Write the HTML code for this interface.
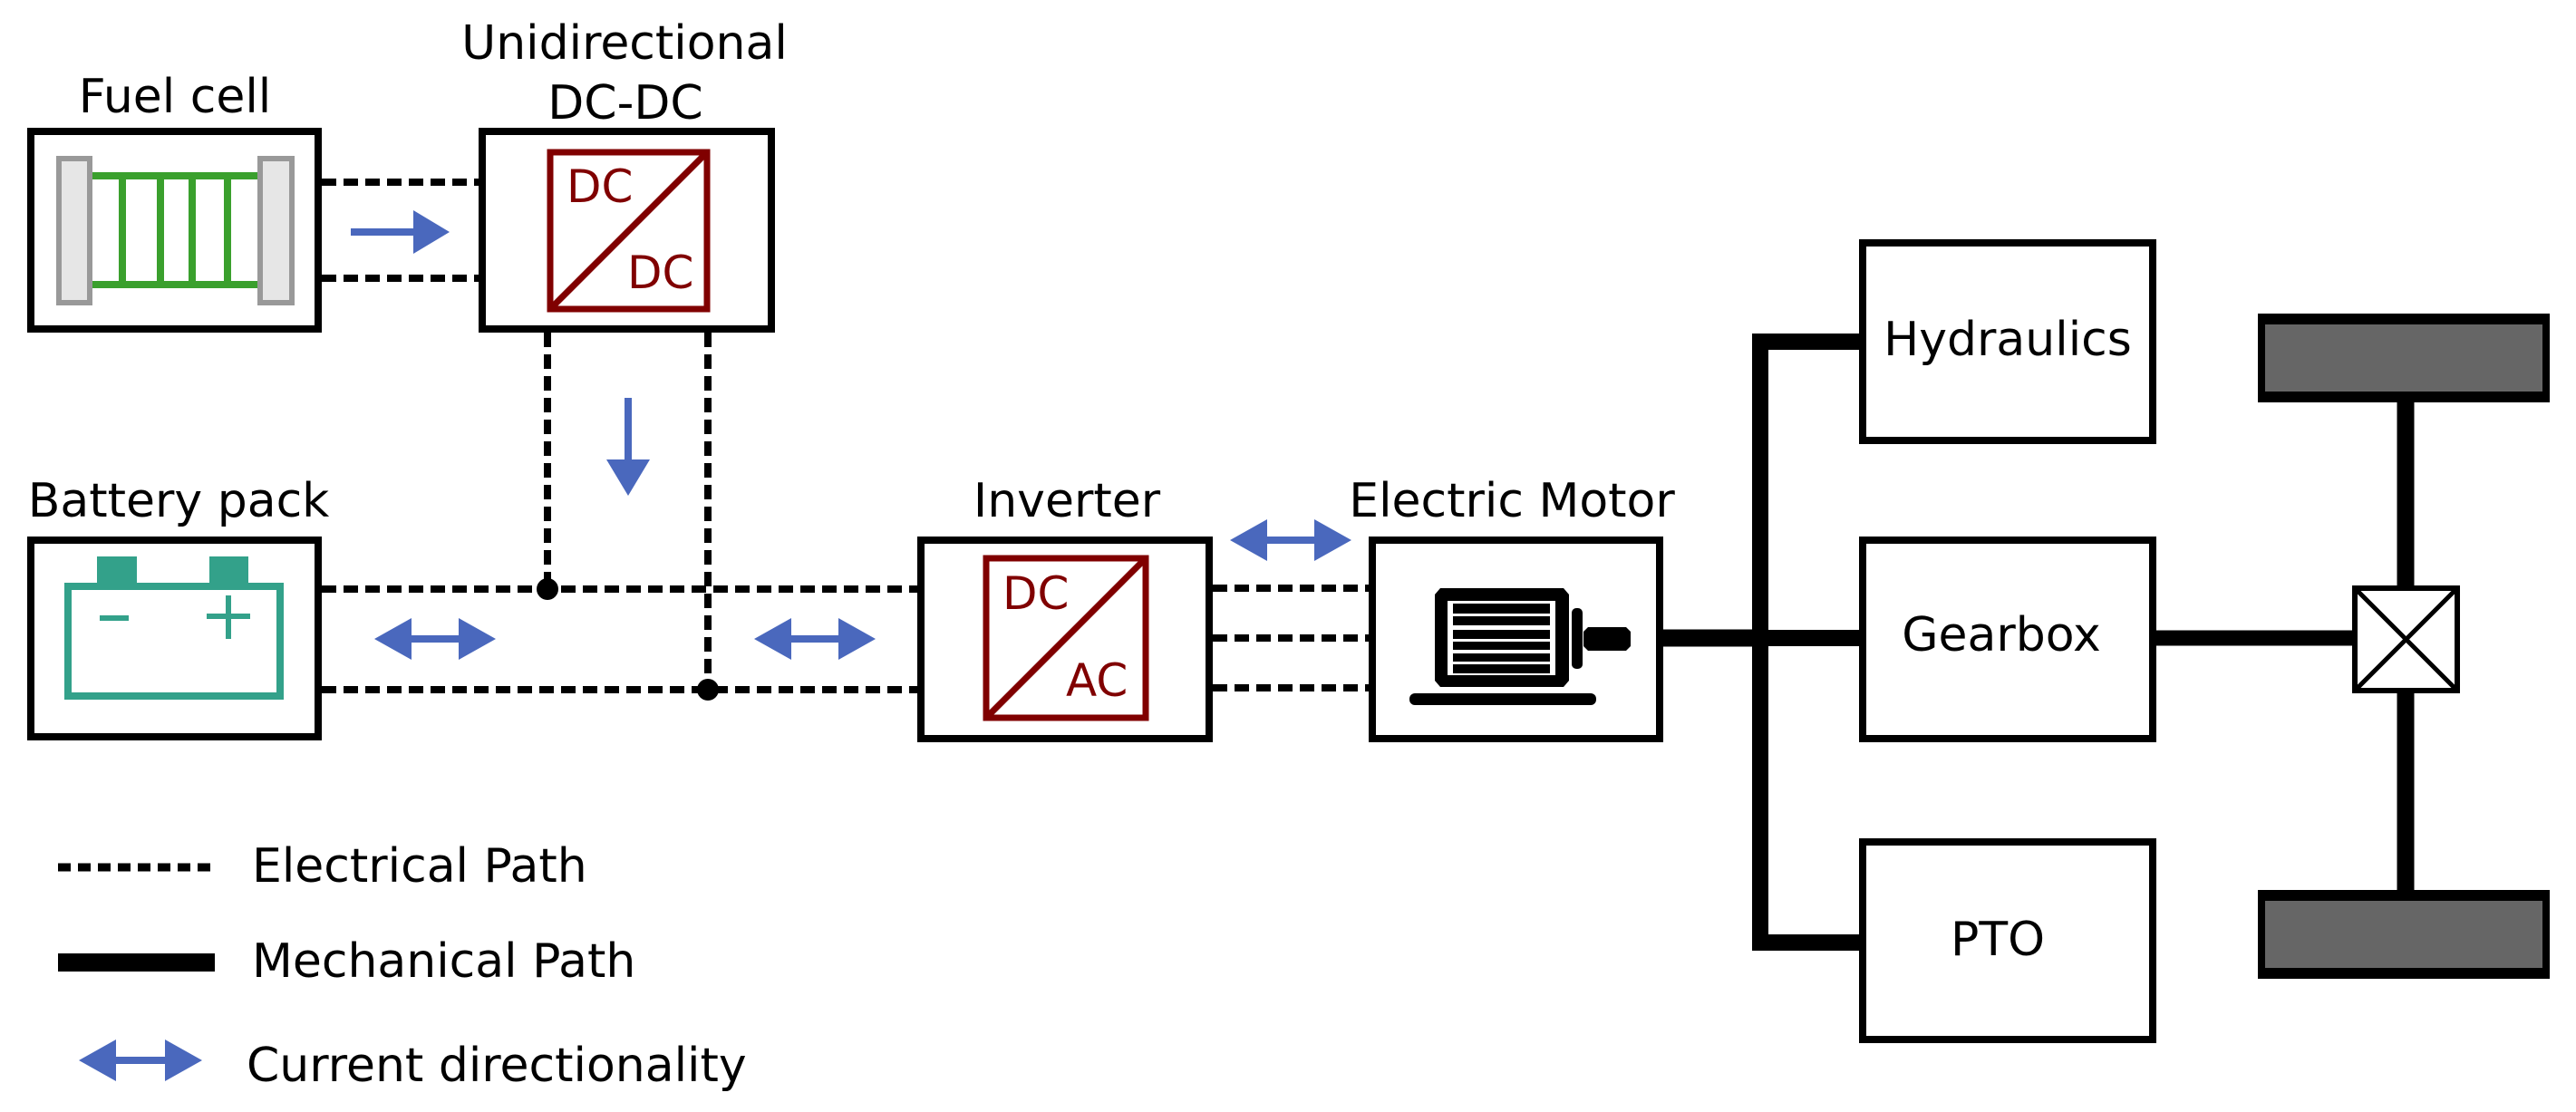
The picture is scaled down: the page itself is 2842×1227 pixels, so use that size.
<!DOCTYPE html>
<html><head><meta charset="utf-8"><style>
html,body{margin:0;padding:0;background:#fff;}
svg{display:block;}
text{font-family:"DejaVu Sans","Liberation Sans",sans-serif;font-size:52px;fill:#000;}
</style></head><body>
<svg width="2842" height="1227" viewBox="0 0 2842 1227" xmlns="http://www.w3.org/2000/svg">
<defs>
<g id="dbl"><polygon points="0,0 41,-23 41,-4 93,-4 93,-23 134,0 93,23 93,4 41,4 41,23" fill="#4a68bd"/></g>
</defs>
<!-- Titles -->
<text x="193" y="124" text-anchor="middle">Fuel cell</text>
<text x="689" y="65" text-anchor="middle">Unidirectional</text>
<text x="690" y="131" text-anchor="middle">DC-DC</text>
<text x="197" y="570" text-anchor="middle">Battery pack</text>
<text x="1177" y="570" text-anchor="middle">Inverter</text>
<text x="1668" y="570" text-anchor="middle">Electric Motor</text>

<!-- dashed electrical lines -->
<g stroke="#000" stroke-width="8" stroke-dasharray="16 8" fill="none">
<line x1="355" y1="201" x2="528" y2="201"/>
<line x1="355" y1="307" x2="528" y2="307"/>
<line x1="604" y1="367" x2="604" y2="650"/>
<line x1="781" y1="367" x2="781" y2="761"/>
<line x1="355" y1="650" x2="1012" y2="650"/>
<line x1="355" y1="761" x2="1012" y2="761"/>
<line x1="1338" y1="649" x2="1510" y2="649"/>
<line x1="1338" y1="704" x2="1510" y2="704"/>
<line x1="1338" y1="759" x2="1510" y2="759"/>
</g>
<circle cx="604" cy="650" r="12" fill="#000"/>
<circle cx="781" cy="761" r="12" fill="#000"/>

<!-- Fuel cell box -->
<rect x="34" y="145" width="317" height="218" fill="#fff" stroke="#000" stroke-width="8"/>
<g stroke="#3aa02d" stroke-width="8" fill="none">
<line x1="100" y1="194" x2="286" y2="194"/>
<line x1="100" y1="314" x2="286" y2="314"/>
<line x1="135" y1="194" x2="135" y2="314"/>
<line x1="177" y1="194" x2="177" y2="314"/>
<line x1="212" y1="194" x2="212" y2="314"/>
<line x1="251" y1="194" x2="251" y2="314"/>
</g>
<rect x="65" y="175" width="34" height="159" fill="#e6e6e6" stroke="#999" stroke-width="6"/>
<rect x="287" y="175" width="35" height="159" fill="#e6e6e6" stroke="#999" stroke-width="6"/>

<!-- DC-DC box -->
<rect x="532" y="145" width="319" height="218" fill="#fff" stroke="#000" stroke-width="8"/>
<rect x="607" y="168" width="173" height="173" fill="none" stroke="#800000" stroke-width="7"/>
<line x1="607" y1="341" x2="780" y2="168" stroke="#800000" stroke-width="7"/>
<text x="625" y="223" style="fill:#800000;font-size:50px">DC</text>
<text x="692" y="318" style="fill:#800000;font-size:50px">DC</text>

<!-- arrows -->
<polygon points="387,252 456,252 456,232 496,256 456,280 456,260 387,260" fill="#4a68bd"/>
<polygon points="689,439 697,439 697,507 717,507 693,547 669,507 689,507" fill="#4a68bd"/>
<use href="#dbl" x="413" y="705"/>
<use href="#dbl" x="832" y="705"/>
<use href="#dbl" x="1357" y="596"/>

<!-- Battery -->
<rect x="34" y="596" width="317" height="217" fill="#fff" stroke="#000" stroke-width="8"/>
<rect x="107" y="614" width="44" height="30" fill="#33a18a"/>
<rect x="231" y="614" width="43" height="30" fill="#33a18a"/>
<rect x="75" y="647" width="234" height="121" fill="none" stroke="#33a18a" stroke-width="8"/>
<rect x="110" y="679" width="32" height="6" fill="#33a18a"/>
<rect x="228" y="677" width="48" height="6" fill="#33a18a"/>
<rect x="249" y="657" width="6" height="48" fill="#33a18a"/>

<!-- Inverter -->
<rect x="1016" y="596" width="318" height="219" fill="#fff" stroke="#000" stroke-width="8"/>
<rect x="1088" y="616" width="176" height="176" fill="none" stroke="#800000" stroke-width="7"/>
<line x1="1088" y1="792" x2="1264" y2="616" stroke="#800000" stroke-width="7"/>
<text x="1106" y="672" style="fill:#800000;font-size:50px">DC</text>
<text x="1176" y="768" style="fill:#800000;font-size:50px">AC</text>

<!-- Motor -->
<rect x="1514" y="596" width="317" height="219" fill="#fff" stroke="#000" stroke-width="8"/>
<polygon points="1589,649 1725,649 1731,656 1731,751 1725,758 1589,758 1583,751 1583,656" fill="#000"/>
<rect x="1597" y="663" width="119" height="82" fill="#fff"/>
<g fill="#000">
<rect x="1603" y="666" width="107" height="11"/>
<rect x="1603" y="680" width="107" height="10"/>
<rect x="1603" y="695" width="107" height="10"/>
<rect x="1603" y="708" width="107" height="9"/>
<rect x="1603" y="721" width="107" height="9"/>
<rect x="1603" y="733" width="107" height="10"/>
<rect x="1734" y="671" width="12" height="67" rx="5"/>
<polygon points="1752,692 1794,692 1799,697 1799,713 1794,718 1752,718 1747,713 1747,697"/>
<rect x="1555" y="765" width="206" height="13" rx="6"/>
</g>

<!-- Mechanical -->
<g stroke="#000" fill="none">
<line x1="1835" y1="704" x2="1942" y2="704" stroke-width="19"/>
<polyline points="2051,377 1942,377 1942,1040 2051,1040" stroke-width="18"/>
<line x1="1942" y1="704" x2="2051" y2="704" stroke-width="18"/>
<line x1="2379" y1="704" x2="2595" y2="704" stroke-width="17"/>
<line x1="2654" y1="444" x2="2654" y2="646" stroke-width="19"/>
<line x1="2654" y1="765" x2="2654" y2="982" stroke-width="19"/>
</g>
<rect x="2055" y="268" width="320" height="218" fill="#fff" stroke="#000" stroke-width="8"/>
<rect x="2055" y="596" width="320" height="219" fill="#fff" stroke="#000" stroke-width="8"/>
<rect x="2055" y="929" width="320" height="218" fill="#fff" stroke="#000" stroke-width="8"/>
<text x="2215" y="392" text-anchor="middle">Hydraulics</text>
<text x="2208" y="718" text-anchor="middle">Gearbox</text>
<text x="2204" y="1054" text-anchor="middle">PTO</text>

<!-- differential -->
<rect x="2598" y="649" width="113" height="113" fill="#fff" stroke="#000" stroke-width="6"/>
<line x1="2598" y1="649" x2="2711" y2="762" stroke="#000" stroke-width="5"/>
<line x1="2711" y1="649" x2="2598" y2="762" stroke="#000" stroke-width="5"/>

<!-- wheels -->
<rect x="2495" y="352" width="314" height="86" fill="#666" stroke="#000" stroke-width="8"/>
<rect x="2491" y="346" width="322" height="12" fill="#000"/>
<rect x="2491" y="432" width="322" height="12" fill="#000"/>
<rect x="2495" y="988" width="314" height="86" fill="#666" stroke="#000" stroke-width="8"/>
<rect x="2491" y="982" width="322" height="12" fill="#000"/>
<rect x="2491" y="1068" width="322" height="12" fill="#000"/>

<!-- Legend -->
<line x1="64" y1="957" x2="237" y2="957" stroke="#000" stroke-width="9" stroke-dasharray="14 8"/>
<text x="278" y="973">Electrical Path</text>
<rect x="64" y="1052" width="173" height="20" fill="#000"/>
<text x="278" y="1078">Mechanical Path</text>
<polygon points="87,1170 128,1147 128,1166 182,1166 182,1147 223,1170 182,1193 182,1174 128,1174 128,1193" fill="#4a68bd"/>
<text x="272" y="1193">Current directionality</text>
</svg>
</body></html>
